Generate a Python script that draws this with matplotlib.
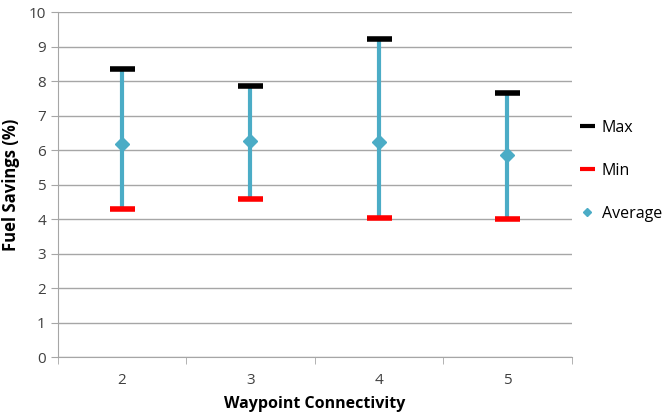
import matplotlib
matplotlib.use("Agg")
from matplotlib import pyplot as plt
import numpy as np

# data
categories = ["2", "3", "4", "5"]
max_vals = [8.35, 7.87, 9.21, 7.66]
min_vals = [4.30, 4.58, 4.04, 4.01]
avg_vals = [6.17, 6.28, 6.23, 5.86]

plt.rcParams['font.family'] = ['Open Sans', 'DejaVu Sans']

fig = plt.figure(figsize=(6.63, 4.16), dpi=100)
ax = fig.add_axes([0.087, 0.141, 0.775, 0.830])

x = np.arange(len(categories)) + 1
blue = "#4BACC6"

# high-low lines
ax.vlines(x, min_vals, max_vals, color=blue, lw=3, zorder=2)
ax.plot(x, max_vals, linestyle="none", marker="_", color="black",
        markersize=18, mew=4, label="Max", zorder=3)
ax.plot(x, min_vals, linestyle="none", marker="_", color="#FF0000",
        markersize=18, mew=4, label="Min", zorder=3)
ax.plot(x, avg_vals, linestyle="none", marker="D", color=blue,
        markersize=7.5, label="Average", zorder=4)

ax.set_ylim(0, 10)
ax.set_yticks(np.arange(0, 11, 1))
ax.set_xlim(0.5, len(categories) + 0.5)
ax.set_xticks(x)
ax.set_xticklabels(categories)
ax.set_xticks(np.arange(0.5, len(categories) + 1, 1), minor=True)

ax.grid(axis="y", color="#A6A6A6", lw=1)
ax.set_axisbelow(True)
for s in ["top", "right"]:
    ax.spines[s].set_visible(False)
for s in ["left", "bottom"]:
    ax.spines[s].set_color("#A6A6A6")

ax.tick_params(axis="y", colors="#404040", labelsize=11, length=5, color="#A6A6A6")
ax.tick_params(axis="x", which="major", length=0, pad=11, labelsize=11, labelcolor="#404040")
ax.tick_params(axis="x", which="minor", length=5, color="#A6A6A6")

ax.set_xlabel("Waypoint Connectivity", fontsize=11.5, fontweight="bold", labelpad=6)
ax.set_ylabel("Fuel Savings (%)", fontsize=12, fontweight="bold", labelpad=6)

leg = ax.legend(loc="center left", bbox_to_anchor=(0.99, 0.54), frameon=False,
                fontsize=11.5, labelspacing=1.7, handlelength=0.8,
                handletextpad=0.5, markerscale=0.6)
for h in leg.legend_handles[:2]:
    h.set_markeredgewidth(3)

plt.savefig("out.png", dpi=100)
